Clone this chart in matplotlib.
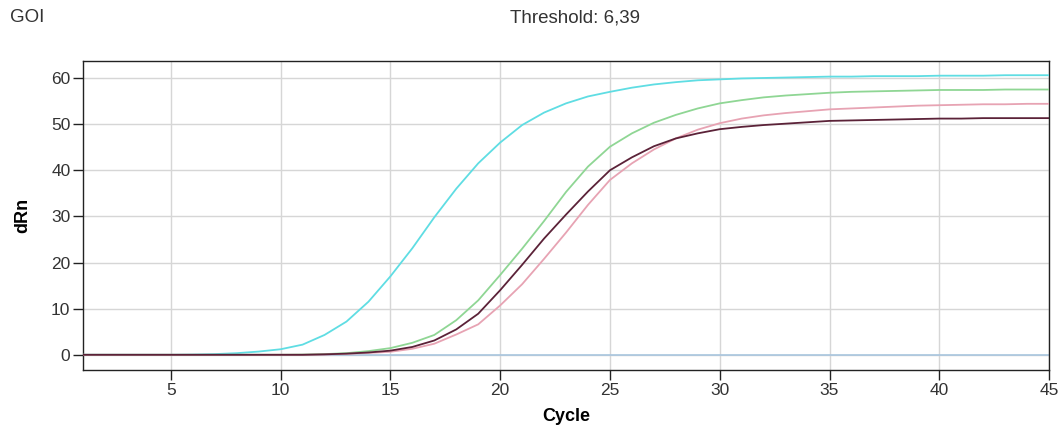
import numpy as np
import matplotlib
matplotlib.use("Agg")
import matplotlib.pyplot as plt

plt.rcParams['font.family'] = ['Liberation Sans', 'DejaVu Sans']

# amplification curves, one value per cycle (1..45)
cycles = np.arange(1, 46)

cyan = [0, 0, 0, 0, 0, 0.05, 0.15, 0.35, 0.7, 1.2,
        2.2, 4.3, 7.2, 11.5, 17.0, 23.1, 29.8, 36.0, 41.5, 46.0,
        49.8, 52.5, 54.5, 56.0, 57.0, 57.9, 58.6, 59.1, 59.5, 59.7,
        59.9, 60.0, 60.1, 60.2, 60.3, 60.3, 60.4, 60.4, 60.4, 60.5,
        60.5, 60.5, 60.6, 60.6, 60.6]
green = [0, 0, 0, 0, 0, 0, 0, 0, 0, 0,
         0.05, 0.15, 0.35, 0.8, 1.45, 2.6, 4.3, 7.5, 11.8, 17.3,
         23.0, 29.0, 35.3, 40.8, 45.1, 48.0, 50.3, 52.0, 53.4, 54.5,
         55.2, 55.8, 56.2, 56.5, 56.8, 57.0, 57.1, 57.2, 57.3, 57.4,
         57.4, 57.4, 57.5, 57.5, 57.5]
dark = [0, 0, 0, 0, 0, 0, 0, 0, 0, 0,
        0, 0.1, 0.25, 0.5, 0.9, 1.7, 3.1, 5.5, 8.9, 14.0,
        19.5, 25.2, 30.4, 35.4, 40.0, 42.8, 45.2, 46.9, 48.0, 48.9,
        49.4, 49.8, 50.1, 50.4, 50.7, 50.8, 50.9, 51.0, 51.1, 51.2,
        51.2, 51.3, 51.3, 51.3, 51.3]
pink = [0, 0, 0, 0, 0, 0, 0, 0, 0, 0,
        0, 0.05, 0.2, 0.4, 0.65, 1.3, 2.4, 4.4, 6.6, 10.7,
        15.3, 20.8, 26.5, 32.5, 37.9, 41.5, 44.5, 46.9, 48.8, 50.2,
        51.2, 51.9, 52.4, 52.8, 53.2, 53.4, 53.6, 53.8, 54.0, 54.1,
        54.2, 54.3, 54.3, 54.4, 54.4]
baseline = 0.0

series = [(cyan, '#5fdde3'), (green, '#8fd694'), (pink, '#e7a3b3'), (dark, '#5b2238')]

fig = plt.figure(figsize=(10.64, 4.29), dpi=100)
ax = fig.add_axes([0.078, 0.1375, 0.908, 0.7205])

ax.axhline(baseline, color='#a9c6df', lw=1.2, zorder=2)
for vals, col in series:
    ax.plot(cycles, vals, color=col, lw=1.3, zorder=3)

ax.set_xlim(1, 45)
ax.set_ylim(-3.3, 63.7)
ax.set_xticks(np.arange(5, 46, 5))
ax.set_yticks(np.arange(0, 61, 10))
ax.grid(True, color='#d6d6d6', lw=1.0, zorder=0)
ax.set_axisbelow(True)
for s in ax.spines.values():
    s.set_color('#222222')
    s.set_linewidth(1.0)
ax.tick_params(direction='out', length=7, width=1, pad=2, labelsize=12.5,
               colors='#222222', labelcolor='#333333')
ax.set_xlabel('Cycle', fontsize=13, fontweight='bold', va='center')
ax.set_ylabel('dRn', fontsize=13, fontweight='bold', va='center')
ax.xaxis.set_label_coords(0.5, -0.149)
ax.yaxis.set_label_coords(-0.0623, 0.5)

fig.text(0.009, 0.96, 'GOI', fontsize=13.5, color='#333333', va='center')
fig.text(0.54, 0.958, 'Threshold: 6,39', fontsize=13.5, color='#333333', va='center', ha='center')

fig.savefig('out.png', dpi=100)
